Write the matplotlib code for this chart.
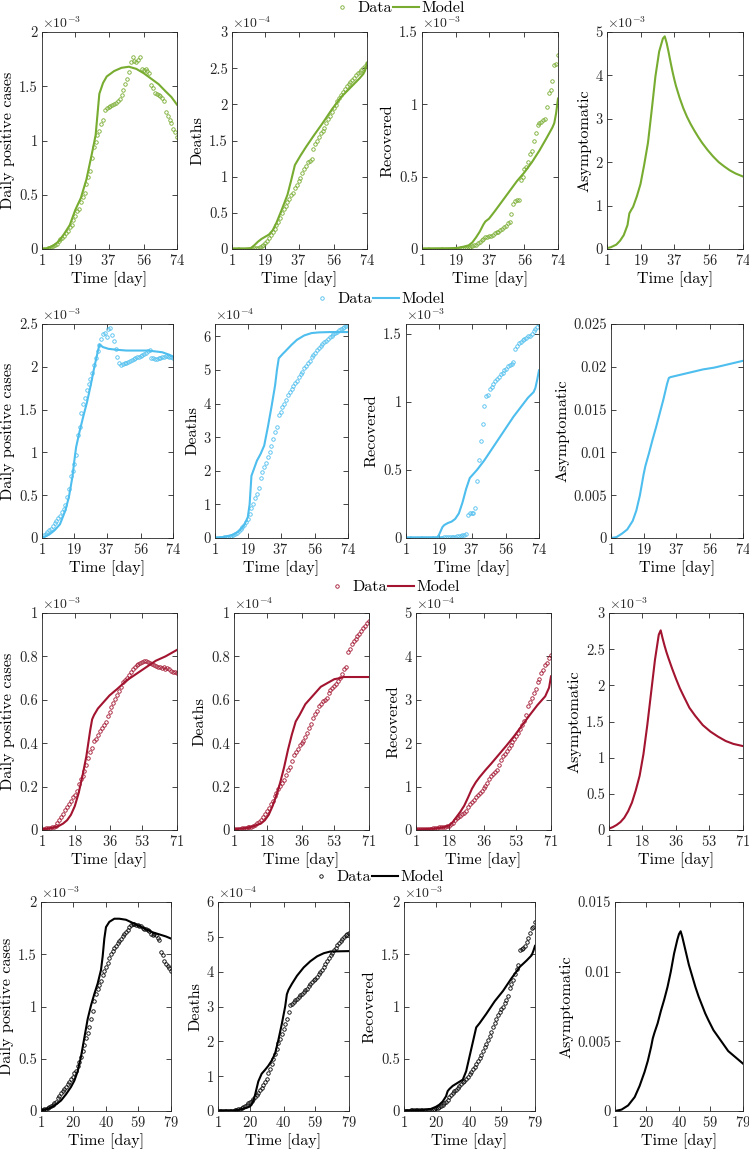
import numpy as np
import matplotlib
matplotlib.use('Agg')
import matplotlib.pyplot as plt
from matplotlib.lines import Line2D
from matplotlib.ticker import FuncFormatter

plt.rcParams['font.family'] = 'serif'
plt.rcParams['font.serif'] = ['cmr10']
plt.rcParams['mathtext.fontset'] = 'cm'
plt.rcParams['axes.unicode_minus'] = False
plt.rcParams['axes.formatter.use_mathtext'] = True

# ---- data (daily points), scaled values as shown on the axes ----
r1_cases = [0.00, 0.00, 0.00, 0.01, 0.01, 0.02, 0.03, 0.04, 0.05, 0.07,
            0.09, 0.10, 0.12, 0.15, 0.17, 0.20, 0.22, 0.27, 0.30, 0.35,
            0.37, 0.43, 0.48, 0.52, 0.60, 0.66, 0.72, 0.84, 0.94, 0.99,
            1.05, 1.09, 1.15, 1.19, 1.28, 1.30, 1.31, 1.32, 1.33, 1.34,
            1.35, 1.36, 1.38, 1.42, 1.47, 1.52, 1.57, 1.63, 1.72, 1.77,
            1.73, 1.72, 1.74, 1.77, 1.66, 1.65, 1.66, 1.64, 1.62, 1.51,
            1.48, 1.44, 1.43, 1.42, 1.41, 1.39, 1.36, 1.26, 1.23, 1.19,
            1.16, 1.11, 1.08, 1.03]
r1_deaths = [0, 0, 0, 0, 0, 0, 0, 0, 0, 0,
             0, 0, 0.01, 0.01, 0.02, 0.03, 0.04, 0.06, 0.08, 0.11,
             0.15, 0.20, 0.24, 0.28, 0.33, 0.38, 0.43, 0.50, 0.55, 0.60,
             0.65, 0.69, 0.74, 0.78, 0.84, 0.89, 0.94, 0.98, 1.05, 1.10,
             1.15, 1.20, 1.22, 1.25, 1.38, 1.45, 1.49, 1.55, 1.60, 1.63,
             1.67, 1.74, 1.80, 1.84, 1.90, 1.95, 1.99, 2.04, 2.09, 2.13,
             2.17, 2.21, 2.25, 2.28, 2.31, 2.34, 2.37, 2.40, 2.43, 2.45,
             2.48, 2.50, 2.53, 2.57]
r1_recov = [0, 0, 0, 0, 0, 0, 0, 0, 0, 0.001,
            0.001, 0.001, 0.001, 0.001, 0.002, 0.002, 0.002, 0.002, 0.002, 0.002,
            0.003, 0.004, 0.005, 0.006, 0.008, 0.010, 0.015, 0.020, 0.025, 0.030,
            0.040, 0.050, 0.060, 0.070, 0.080, 0.085, 0.090, 0.090, 0.100, 0.110,
            0.120, 0.120, 0.130, 0.140, 0.150, 0.160, 0.180, 0.190, 0.240, 0.310,
            0.330, 0.340, 0.340, 0.480, 0.500, 0.550, 0.570, 0.600, 0.660, 0.680,
            0.750, 0.800, 0.860, 0.870, 0.880, 0.890, 0.900, 0.980, 1.080, 1.100,
            1.160, 1.270, 1.280, 1.340]

r2_cases = [0.01, 0.03, 0.05, 0.07, 0.09, 0.11, 0.14, 0.17, 0.20, 0.23,
            0.26, 0.30, 0.34, 0.38, 0.48, 0.57, 0.72, 0.78, 0.86, 0.97,
            1.20, 1.30, 1.46, 1.56, 1.64, 1.73, 1.80, 1.86, 1.93, 2.02,
            2.10, 2.18, 2.26, 2.33, 2.38, 2.40, 2.35, 2.44, 2.45, 2.37,
            2.30, 2.21, 2.12, 2.05, 2.02, 2.03, 2.04, 2.05, 2.06, 2.07,
            2.08, 2.09, 2.10, 2.11, 2.12, 2.13, 2.14, 2.15, 2.16, 2.18,
            2.20, 2.10, 2.10, 2.09, 2.09, 2.10, 2.10, 2.11, 2.12, 2.13,
            2.13, 2.12, 2.11, 2.10]
r2_deaths = [0.0, 0.0, 0.01, 0.01, 0.01, 0.02, 0.02, 0.03, 0.04, 0.06,
             0.08, 0.11, 0.15, 0.20, 0.26, 0.32, 0.38, 0.47, 0.58, 0.70,
             0.90, 1.02, 1.20, 1.32, 1.50, 1.80, 1.95, 2.10, 2.22, 2.40,
             2.55, 2.75, 2.95, 3.15, 3.30, 3.65, 3.75, 3.90, 4.00, 4.12,
             4.25, 4.35, 4.45, 4.52, 4.60, 4.68, 4.78, 4.88, 4.95, 5.05,
             5.12, 5.20, 5.28, 5.38, 5.45, 5.52, 5.60, 5.66, 5.72, 5.77,
             5.82, 5.87, 5.92, 5.98, 6.02, 6.06, 6.10, 6.14, 6.18, 6.22,
             6.26, 6.29, 6.32, 6.35]
r2_recov = [0.002, 0.002, 0.002, 0.002, 0.002, 0.002, 0.002, 0.002, 0.002, 0.002,
            0.002, 0.002, 0.002, 0.002, 0.002, 0.002, 0.002, 0.002, 0.002, 0.002,
            0.003, 0.004, 0.005, 0.005, 0.006, 0.007, 0.008, 0.010, 0.012, 0.015,
            0.018, 0.020, 0.025, 0.027, 0.170, 0.180, 0.180, 0.180, 0.220, 0.420,
            0.570, 0.710, 0.840, 0.970, 1.040, 1.050, 1.090, 1.110, 1.130, 1.150,
            1.170, 1.180, 1.200, 1.210, 1.230, 1.240, 1.260, 1.270, 1.280, 1.290,
            1.390, 1.410, 1.430, 1.440, 1.450, 1.460, 1.470, 1.480, 1.480, 1.500,
            1.520, 1.530, 1.550, 1.570]

r3_cases = [0.003, 0.005, 0.008, 0.010, 0.011, 0.012, 0.015, 0.020, 0.030, 0.045,
            0.060, 0.075, 0.090, 0.105, 0.120, 0.135, 0.150, 0.160, 0.180, 0.210,
            0.235, 0.250, 0.270, 0.300, 0.330, 0.360, 0.380, 0.410, 0.420, 0.440,
            0.455, 0.470, 0.485, 0.500, 0.525, 0.545, 0.565, 0.585, 0.605, 0.620,
            0.640, 0.660, 0.680, 0.690, 0.700, 0.715, 0.730, 0.740, 0.750, 0.760,
            0.765, 0.770, 0.775, 0.780, 0.780, 0.775, 0.770, 0.765, 0.760, 0.755,
            0.750, 0.750, 0.745, 0.750, 0.740, 0.745, 0.740, 0.735, 0.730, 0.730,
            0.725]
r3_deaths = [0.003, 0.004, 0.005, 0.006, 0.008, 0.009, 0.010, 0.012, 0.014, 0.016,
             0.018, 0.022, 0.030, 0.038, 0.047, 0.058, 0.072, 0.088, 0.100, 0.120,
             0.135, 0.155, 0.170, 0.190, 0.205, 0.215, 0.230, 0.255, 0.275, 0.290,
             0.320, 0.345, 0.360, 0.375, 0.390, 0.400, 0.410, 0.430, 0.445, 0.470,
             0.490, 0.515, 0.535, 0.550, 0.570, 0.580, 0.595, 0.600, 0.610, 0.630,
             0.645, 0.655, 0.665, 0.675, 0.685, 0.700, 0.720, 0.740, 0.750, 0.820,
             0.835, 0.855, 0.870, 0.880, 0.895, 0.905, 0.915, 0.930, 0.940, 0.955,
             0.965]
r3_recov = [0.02, 0.02, 0.02, 0.02, 0.02, 0.03, 0.03, 0.03, 0.03, 0.04,
            0.04, 0.05, 0.06, 0.06, 0.07, 0.08, 0.09, 0.10, 0.13, 0.17,
            0.22, 0.27, 0.29, 0.32, 0.36, 0.40, 0.44, 0.52, 0.60, 0.65,
            0.70, 0.75, 0.80, 0.86, 0.91, 0.96, 1.02, 1.08, 1.18, 1.25,
            1.29, 1.33, 1.38, 1.50, 1.62, 1.70, 1.76, 1.83, 1.90, 1.97,
            2.03, 2.09, 2.16, 2.23, 2.32, 2.42, 2.52, 2.65, 2.85, 2.95,
            3.05, 3.15, 3.26, 3.40, 3.47, 3.62, 3.68, 3.80, 3.85, 3.97,
            4.03]

r4_cases = [0.005, 0.010, 0.015, 0.022, 0.030, 0.040, 0.050, 0.060, 0.075, 0.090,
            0.120, 0.140, 0.170, 0.190, 0.210, 0.230, 0.260, 0.280, 0.310, 0.330,
            0.360, 0.380, 0.430, 0.470, 0.520, 0.570, 0.630, 0.700, 0.750, 0.800,
            0.880, 0.960, 1.050, 1.120, 1.170, 1.210, 1.240, 1.300, 1.340, 1.380,
            1.420, 1.460, 1.500, 1.530, 1.560, 1.580, 1.610, 1.630, 1.650, 1.670,
            1.690, 1.710, 1.730, 1.760, 1.780, 1.790, 1.790, 1.780, 1.780, 1.770,
            1.770, 1.750, 1.740, 1.740, 1.730, 1.720, 1.690, 1.680, 1.690, 1.680,
            1.660, 1.640, 1.520, 1.490, 1.440, 1.410, 1.390, 1.370, 1.340]
r4_deaths = [0.01, 0.01, 0.01, 0.01, 0.01, 0.01, 0.01, 0.01, 0.01, 0.01,
             0.02, 0.04, 0.05, 0.07, 0.09, 0.11, 0.14, 0.18, 0.22, 0.26,
             0.30, 0.35, 0.40, 0.45, 0.52, 0.59, 0.66, 0.74, 0.83, 0.93,
             1.08, 1.22, 1.36, 1.50, 1.65, 1.79, 1.94, 2.08, 2.22, 2.36,
             2.50, 2.65, 2.85, 3.03, 3.08, 3.13, 3.18, 3.22, 3.27, 3.32,
             3.37, 3.42, 3.47, 3.51, 3.58, 3.66, 3.71, 3.75, 3.80, 3.85,
             3.92, 3.99, 4.06, 4.13, 4.22, 4.30, 4.38, 4.47, 4.54, 4.61,
             4.68, 4.76, 4.82, 4.87, 4.94, 5.00, 5.04, 5.08, 5.12]
r4_recov = [0.004, 0.004, 0.004, 0.004, 0.005, 0.005, 0.005, 0.005, 0.006, 0.006,
            0.006, 0.007, 0.007, 0.008, 0.009, 0.010, 0.012, 0.014, 0.018, 0.025,
            0.032, 0.040, 0.050, 0.060, 0.075, 0.090, 0.110, 0.130, 0.150, 0.170,
            0.190, 0.205, 0.220, 0.240, 0.260, 0.275, 0.290, 0.310, 0.330, 0.350,
            0.375, 0.400, 0.420, 0.445, 0.480, 0.510, 0.540, 0.575, 0.610, 0.640,
            0.680, 0.720, 0.760, 0.800, 0.840, 0.880, 0.915, 0.950, 0.980, 1.000,
            1.030, 1.060, 1.100, 1.180, 1.220, 1.250, 1.310, 1.360, 1.400, 1.540,
            1.550, 1.560, 1.580, 1.620, 1.660, 1.700, 1.750, 1.760, 1.810]

# ---- model curves (day, value) ----
r1_cases_mt = [1, 4, 7, 10, 13, 16, 19, 22, 25, 28, 30, 32, 34, 36, 40, 44, 48, 52, 56, 60, 64, 68, 71, 74]
r1_cases_mv = [0, 0.005, 0.03, 0.07, 0.14, 0.22, 0.36, 0.47, 0.64, 0.88, 1.05, 1.43, 1.53, 1.59, 1.64, 1.67,
               1.68, 1.66, 1.62, 1.57, 1.52, 1.45, 1.40, 1.33]
r1_deaths_mt = [1, 8, 11, 13, 15, 17, 19, 21, 23, 25, 28, 31, 33, 35, 38, 41, 45, 50, 55, 60, 65, 70, 72, 73, 74]
r1_deaths_mv = [0, 0, 0.01, 0.05, 0.10, 0.14, 0.17, 0.20, 0.26, 0.36, 0.55, 0.75, 0.95, 1.16, 1.29, 1.41,
                1.56, 1.74, 1.93, 2.10, 2.23, 2.36, 2.42, 2.47, 2.57]
r1_recov_mt = [1, 15, 20, 23, 26, 28, 30, 32, 34, 35, 37, 40, 44, 48, 52, 56, 60, 64, 68, 71, 72, 73, 74]
r1_recov_mv = [0, 0.003, 0.008, 0.015, 0.025, 0.045, 0.08, 0.12, 0.17, 0.19, 0.21, 0.26, 0.33, 0.40, 0.47,
               0.53, 0.60, 0.68, 0.77, 0.84, 0.87, 0.94, 1.04]
r1_asym_mt = [1, 3, 6, 8, 10, 12, 13, 14, 15, 17, 19, 21, 23, 25, 27, 29, 31, 32, 33, 34, 35, 36, 37, 38,
              40, 42, 44, 46, 48, 50, 52, 55, 58, 61, 64, 67, 70, 74]
r1_asym_mv = [0.02, 0.04, 0.10, 0.19, 0.32, 0.55, 0.82, 0.90, 0.97, 1.21, 1.50, 1.95, 2.45, 3.20, 3.98, 4.55,
              4.85, 4.90, 4.75, 4.55, 4.33, 4.12, 3.93, 3.76, 3.48, 3.24, 3.04, 2.87, 2.72, 2.58, 2.45,
              2.28, 2.13, 2.00, 1.90, 1.81, 1.74, 1.67]

r2_cases_mt = [1, 5, 8, 11, 14, 16, 18, 19, 20, 22, 24, 26, 28, 30, 32, 33, 35, 38, 42, 48, 54, 60, 64, 68, 72, 74]
r2_cases_mv = [0, 0.04, 0.09, 0.16, 0.32, 0.48, 0.72, 0.90, 1.06, 1.25, 1.42, 1.58, 1.77, 1.98, 2.17, 2.26,
               2.23, 2.21, 2.20, 2.19, 2.19, 2.19, 2.18, 2.17, 2.14, 2.12]
r2_deaths_mt = [1, 6, 11, 14, 17, 19, 20, 21, 22, 24, 26, 28, 30, 32, 34, 35, 36, 38, 40, 43, 46, 50, 54, 58, 64, 74]
r2_deaths_mv = [0, 0.03, 0.10, 0.20, 0.38, 0.62, 1.00, 1.85, 2.00, 2.30, 2.50, 2.75, 3.30, 3.90, 4.55, 5.00,
                5.35, 5.47, 5.58, 5.75, 5.90, 6.03, 6.10, 6.12, 6.13, 6.13]
r2_recov_mt = [1, 18, 19, 20, 21, 22, 24, 26, 28, 30, 32, 34, 36, 38, 40, 44, 48, 52, 56, 60, 64, 68, 71, 72, 73, 74]
r2_recov_mv = [0, 0.003, 0.02, 0.05, 0.08, 0.095, 0.11, 0.12, 0.14, 0.18, 0.26, 0.36, 0.44, 0.47, 0.50, 0.57,
               0.65, 0.73, 0.81, 0.89, 0.96, 1.03, 1.07, 1.10, 1.16, 1.23]
r2_asym_mt = [1, 4, 7, 10, 13, 15, 17, 19, 20, 22, 24, 26, 28, 30, 32, 33, 34, 40, 46, 52, 58, 64, 70, 74]
r2_asym_mv = [0, 0.0001, 0.0005, 0.001, 0.002, 0.0032, 0.005, 0.0074, 0.0084, 0.0099, 0.0115, 0.0130,
              0.0146, 0.0162, 0.0180, 0.0187, 0.0188, 0.0191, 0.0194, 0.0197, 0.0199, 0.0202, 0.0205, 0.0207]

r3_cases_mt = [1, 5, 9, 12, 14, 16, 18, 20, 22, 24, 26, 27, 28, 30, 33, 36, 40, 45, 50, 55, 60, 65, 71]
r3_cases_mv = [0.003, 0.008, 0.015, 0.03, 0.045, 0.07, 0.11, 0.17, 0.25, 0.34, 0.46, 0.51, 0.53, 0.56, 0.59,
               0.62, 0.65, 0.69, 0.72, 0.75, 0.78, 0.80, 0.83]
r3_deaths_mt = [1, 8, 12, 15, 17, 19, 21, 23, 25, 27, 29, 31, 33, 35, 38, 42, 46, 50, 53, 56, 58, 71]
r3_deaths_mv = [0.003, 0.01, 0.02, 0.03, 0.045, 0.07, 0.11, 0.16, 0.22, 0.29, 0.37, 0.44, 0.50, 0.53, 0.58,
                0.62, 0.66, 0.68, 0.695, 0.70, 0.705, 0.705]
r3_recov_mt = [1, 10, 15, 18, 20, 22, 24, 26, 28, 30, 32, 34, 37, 40, 44, 48, 52, 56, 60, 64, 68, 70, 71]
r3_recov_mv = [0.01, 0.03, 0.06, 0.10, 0.18, 0.30, 0.42, 0.56, 0.75, 0.95, 1.10, 1.22, 1.38, 1.53, 1.74, 1.95,
               2.17, 2.41, 2.65, 2.88, 3.08, 3.28, 3.54]
r3_asym_mt = [1, 3, 5, 7, 9, 11, 13, 15, 17, 19, 21, 23, 25, 27, 28, 29, 30, 31, 32, 34, 36, 38, 40, 43,
              46, 50, 54, 58, 62, 66, 71]
r3_asym_mv = [0.02, 0.04, 0.07, 0.11, 0.17, 0.26, 0.38, 0.55, 0.75, 1.05, 1.45, 1.90, 2.35, 2.70, 2.76, 2.65,
              2.55, 2.46, 2.38, 2.23, 2.09, 1.96, 1.85, 1.69, 1.58, 1.45, 1.36, 1.29, 1.23, 1.19, 1.16]

r4_cases_mt = [1, 5, 9, 13, 16, 19, 21, 23, 25, 27, 29, 31, 33, 35, 37, 38, 39, 40, 42, 45, 48, 52, 56, 60,
               64, 68, 72, 76, 79]
r4_cases_mv = [0.005, 0.02, 0.05, 0.10, 0.16, 0.23, 0.29, 0.38, 0.52, 0.70, 0.88, 1.01, 1.12, 1.22, 1.35,
               1.48, 1.65, 1.76, 1.81, 1.84, 1.84, 1.83, 1.80, 1.77, 1.74, 1.71, 1.69, 1.67, 1.65]
r4_deaths_mt = [1, 10, 14, 18, 20, 21, 22, 23, 24, 25, 27, 29, 31, 33, 35, 37, 39, 41, 42, 43, 45, 48, 52,
                56, 60, 64, 68, 79]
r4_deaths_mv = [0.01, 0.01, 0.04, 0.09, 0.13, 0.18, 0.28, 0.45, 0.65, 0.85, 1.07, 1.18, 1.30, 1.45, 1.65,
                2.05, 2.50, 3.00, 3.35, 3.48, 3.65, 3.88, 4.12, 4.30, 4.44, 4.53, 4.58, 4.59]
r4_recov_mt = [1, 12, 17, 20, 22, 24, 26, 27, 28, 30, 32, 34, 36, 38, 40, 42, 44, 46, 50, 55, 60, 65, 70,
               74, 77, 78, 79]
r4_recov_mv = [0.005, 0.008, 0.02, 0.04, 0.06, 0.09, 0.14, 0.19, 0.21, 0.24, 0.26, 0.28, 0.30, 0.38, 0.52,
               0.66, 0.80, 0.84, 0.93, 1.05, 1.15, 1.27, 1.38, 1.44, 1.49, 1.53, 1.58]
r4_asym_mt = [1, 5, 9, 13, 16, 19, 21, 23, 24, 25, 27, 29, 31, 33, 35, 37, 39, 40, 41, 42, 43, 44, 45, 46,
              48, 50, 52, 54, 56, 58, 61, 64, 67, 70, 73, 76, 79]
r4_asym_mv = [0, 0.0001, 0.0004, 0.001, 0.0018, 0.0028, 0.0036, 0.0046, 0.0052, 0.0056, 0.0063, 0.0072,
              0.0080, 0.0089, 0.0100, 0.0113, 0.0123, 0.0127, 0.0129, 0.0125, 0.0120, 0.0115, 0.0110,
              0.0105, 0.0097, 0.0089, 0.0082, 0.0076, 0.0070, 0.0065, 0.0058, 0.0053, 0.0048, 0.0043,
              0.0040, 0.0037, 0.0034]

colors = ['#77AC30', '#4DBEEE', '#A2142F', '#000000']
xticks = [[1, 19, 37, 56, 74], [1, 19, 37, 56, 74], [1, 18, 36, 53, 71], [1, 20, 40, 59, 79]]

# axes boxes in pixels: (left, right) per column, (top, bottom) per row
rows_y = [(32, 249), (324, 538), (613, 830), (902, 1111)]
cols_x = [[(42, 177), (232, 367), (422, 558), (607, 743)],
          [(42, 173), (215, 348), (406, 539), (611, 743)],
          [(42, 177), (234, 369), (416, 551), (609, 743)],
          [(41, 171), (218, 349), (404, 535), (615, 743)]]
legend_xy = [(397, 8), (377, 299), (392, 587), (376, 877)]

# per row: (data, model t, model v, ylabel, ylim top, yticks, exponent)
rows = [
    [(r1_cases, r1_cases_mt, r1_cases_mv, 'Daily positive cases', 2, [0, 0.5, 1, 1.5, 2], -3),
     (r1_deaths, r1_deaths_mt, r1_deaths_mv, 'Deaths', 3, [0, 0.5, 1, 1.5, 2, 2.5, 3], -4),
     (r1_recov, r1_recov_mt, r1_recov_mv, 'Recovered', 1.5, [0, 0.5, 1, 1.5], -3),
     (None, r1_asym_mt, r1_asym_mv, 'Asymptomatic', 5, [0, 1, 2, 3, 4, 5], -3)],
    [(r2_cases, r2_cases_mt, r2_cases_mv, 'Daily positive cases', 2.5, [0, 0.5, 1, 1.5, 2, 2.5], -3),
     (r2_deaths, r2_deaths_mt, r2_deaths_mv, 'Deaths', 6.37, [0, 1, 2, 3, 4, 5, 6], -4),
     (r2_recov, r2_recov_mt, r2_recov_mv, 'Recovered', 1.57, [0, 0.5, 1, 1.5], -3),
     (None, r2_asym_mt, r2_asym_mv, 'Asymptomatic', 0.025, [0, 0.005, 0.01, 0.015, 0.02, 0.025], None)],
    [(r3_cases, r3_cases_mt, r3_cases_mv, 'Daily positive cases', 1, [0, 0.2, 0.4, 0.6, 0.8, 1], -3),
     (r3_deaths, r3_deaths_mt, r3_deaths_mv, 'Deaths', 1, [0, 0.2, 0.4, 0.6, 0.8, 1], -4),
     (r3_recov, r3_recov_mt, r3_recov_mv, 'Recovered', 5, [0, 1, 2, 3, 4, 5], -4),
     (None, r3_asym_mt, r3_asym_mv, 'Asymptomatic', 3, [0, 0.5, 1, 1.5, 2, 2.5, 3], -3)],
    [(r4_cases, r4_cases_mt, r4_cases_mv, 'Daily positive cases', 2, [0, 0.5, 1, 1.5, 2], -3),
     (r4_deaths, r4_deaths_mt, r4_deaths_mv, 'Deaths', 6, [0, 1, 2, 3, 4, 5, 6], -4),
     (r4_recov, r4_recov_mt, r4_recov_mv, 'Recovered', 2, [0, 0.5, 1, 1.5, 2], -3),
     (None, r4_asym_mt, r4_asym_mv, 'Asymptomatic', 0.015, [0, 0.005, 0.01, 0.015], None)],
]

W, H = 749, 1150
fig = plt.figure(figsize=(W / 100, H / 100), dpi=100)
fs_lab = 11.6   # axis labels and legend
fs_tick = 10.5  # tick labels
fs_exp = 10     # x10^n multiplier

for i, row in enumerate(rows):
    c = colors[i]
    top, bot = rows_y[i]
    for j, (data, mt, mv, ylab, ytop, yt, ex) in enumerate(row):
        l, r = cols_x[i][j]
        ax = fig.add_axes([l / W, 1 - bot / H, (r - l) / W, (bot - top) / H])
        if data is not None:
            days = np.arange(1, len(data) + 1)
            ax.plot(days, data, 'o', mfc='none', mec=c, ms=2.5, mew=0.6)
        ax.plot(mt, mv, '-', color=c, lw=1.5)
        ax.set_xlim(1, xticks[i][-1])
        ax.set_ylim(0, ytop)
        ax.set_xticks(xticks[i])
        ax.set_yticks(yt)
        ax.yaxis.set_major_formatter(FuncFormatter(lambda v, p: '%g' % v))
        ax.tick_params(direction='in', top=True, right=True, length=3.5, width=0.6,
                       labelsize=fs_tick, colors='#262626', pad=3)
        for s in ax.spines.values():
            s.set_linewidth(0.6)
            s.set_color('#262626')
        ax.set_xlabel('Time [day]', fontsize=fs_lab, labelpad=2)
        ax.set_ylabel(ylab, fontsize=fs_lab, labelpad=3)
        if ex is not None:
            ax.text(0, 1.004, r'$\times10^{%d}$' % ex, transform=ax.transAxes,
                    fontsize=fs_exp, ha='left', va='bottom', color='#262626')

    handles = [Line2D([], [], ls='none', marker='o', mfc='none', mec=c, ms=2.5, mew=0.6),
               Line2D([], [], color=c, lw=1.5)]
    lx, ly = legend_xy[i]
    fig.legend(handles, ['Data', 'Model'], loc='center', bbox_to_anchor=(lx / W, 1 - ly / H),
               ncol=2, frameon=False, fontsize=fs_lab, handlelength=1.6, handletextpad=0.15,
               columnspacing=0.1, borderpad=0, borderaxespad=0)

fig.savefig('out.png', dpi=100)
